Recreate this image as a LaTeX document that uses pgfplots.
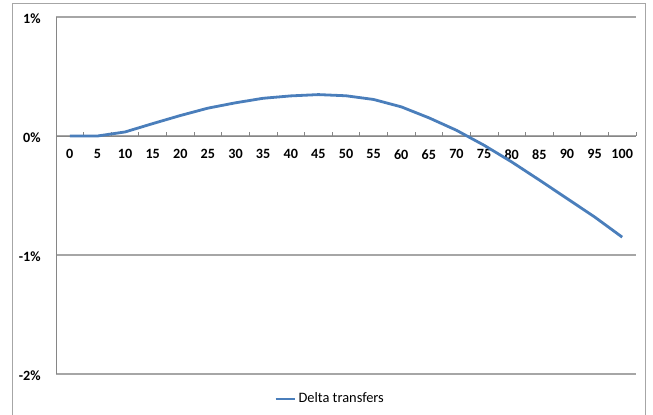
\documentclass[border=0pt]{standalone}
\usepackage{pgfplots}
\pgfplotsset{compat=1.18}
\usepackage{fontspec}
\setmainfont{Carlito}
\definecolor{linecol}{HTML}{4A7EBB}
\definecolor{gridcol}{HTML}{A6A6A6}
\definecolor{axcol}{HTML}{868686}
\begin{document}
\begin{tikzpicture}
\useasboundingbox (0pt,0pt) rectangle (489.75pt,-310.5pt);
\draw[gridcol, line width=0.9pt] (9.375pt,-315pt) -- (9.375pt,-2.625pt) -- (484.125pt,-2.625pt) -- (484.125pt,-315pt);
\begin{axis}[
  at={(42pt,-12.75pt)}, anchor=north west,
  scale only axis, width=435pt, height=267.75pt,
  xmin=-2.5, xmax=102.5, ymin=-2, ymax=1,
  axis x line=middle, axis y line*=left,
  x axis line style={-, draw=axcol, line width=0.6pt},
  y axis line style={-, draw=axcol, line width=0.6pt},
  hide obscured x ticks=false,
  xtick={0,5,...,100},
  major tick length=0pt,
  extra x ticks={-2.5,2.5,...,102.5},
  extra x tick labels={},
  extra x tick style={tick align=inside, major tick length=3pt, tick style={draw=axcol, line width=0.6pt}},
  xticklabel style={anchor=north, yshift=-6.5pt, font=\fontsize{10.6}{12}\selectfont\bfseries},
  ytick={-2,-1,0,1},
  yticklabel={\pgfmathprintnumber{\tick}\%},
  yticklabel style={anchor=east, xshift=-8pt, yshift=-1pt, font=\fontsize{10.6}{12}\selectfont\bfseries},
  ymajorgrids, grid style={draw=gridcol, line width=0.9pt},
  ytick style={draw=none},
  /pgf/number format/assume math mode=true,
  legend style={at={(axis description cs:0.473,-0.07)}, anchor=center, draw=none, fill=none, font=\fontsize{10.8}{12}\selectfont, inner sep=1pt},
  legend image code/.code={\draw[#1] (0cm,0cm) -- (0.5cm,0cm);},
  clip=false,
]
\addplot[linecol, line width=2.1pt] coordinates {
(0,0) (5,0) (10,0.034) (15,0.104) (20,0.172) (25,0.234) (30,0.279) (35,0.317) (40,0.337) (45,0.348) (50,0.338)
(55,0.307) (60,0.245) (65,0.153) (70,0.048) (75,-0.078) (80,-0.218) (85,-0.37) (90,-0.525) (95,-0.68) (100,-0.85)
};
\addlegendentry{Delta transfers}
\end{axis}
\end{tikzpicture}
\end{document}
